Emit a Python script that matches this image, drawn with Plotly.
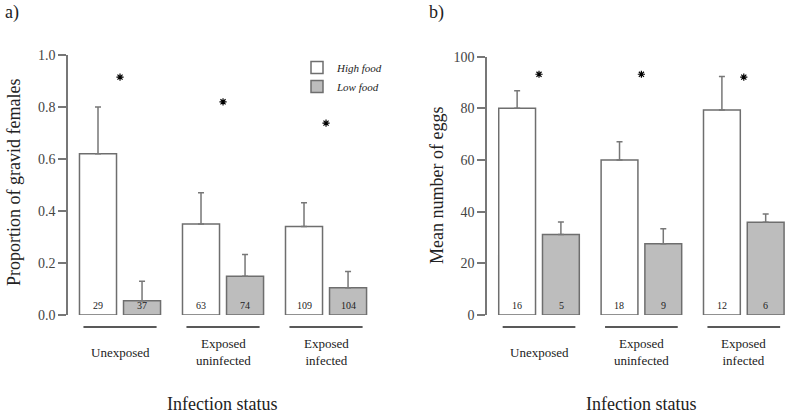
import plotly.graph_objects as go

W, H = 787, 415
FONT = "Liberation Serif"

categories = ["Unexposed", "Exposed uninfected", "Exposed infected"]
cat_labels = ["Unexposed", "Exposed<br>uninfected", "Exposed<br>infected"]

# Panel a: proportion of gravid females
a_high_mean = [0.62, 0.35, 0.34]
a_high_err = [0.18, 0.12, 0.092]
a_low_mean = [0.055, 0.149, 0.105]
a_low_err = [0.075, 0.084, 0.062]
a_high_n = ["29", "63", "109"]
a_low_n = ["37", "74", "104"]
a_star_y = [0.915, 0.82, 0.738]

# Panel b: mean number of eggs
b_high_mean = [80.0, 60.0, 79.4]
b_high_err = [6.8, 7.1, 12.9]
b_low_mean = [31.2, 27.6, 35.9]
b_low_err = [4.8, 5.8, 3.2]
b_high_n = ["16", "18", "12"]
b_low_n = ["5", "9", "6"]
b_star_y = [93.2, 93.2, 92.1]
b_letters = ["a", "b", "a,b"]
b_letter_y = [100.9, 100.9, 100.9]

WHITE = "#ffffff"
GREY = "#bdbdbd"
EDGE = "#6e6e6e"
AXC = "#777777"
TXT = "#222222"

fig = go.Figure()

def add_panel(xa, ya, hm, he, lm, le, showleg):
    fig.add_trace(go.Bar(
        x=categories, y=hm, name="High food", xaxis=xa, yaxis=ya,
        marker=dict(color=WHITE, line=dict(color=EDGE, width=1.5)),
        error_y=dict(type="data", array=he, arrayminus=[0] * len(he), symmetric=False,
                     color=AXC, thickness=1.5, width=3),
        showlegend=showleg, cliponaxis=False))
    fig.add_trace(go.Bar(
        x=categories, y=lm, name="Low food", xaxis=xa, yaxis=ya,
        marker=dict(color=GREY, line=dict(color=EDGE, width=1.5)),
        error_y=dict(type="data", array=le, arrayminus=[0] * len(le), symmetric=False,
                     color=AXC, thickness=1.5, width=3),
        showlegend=showleg, cliponaxis=False))

add_panel("x", "y", a_high_mean, a_high_err, a_low_mean, a_low_err, True)
add_panel("x2", "y2", b_high_mean, b_high_err, b_low_mean, b_low_err, False)

star_marker = dict(symbol="asterisk-open", size=6, color="black", line=dict(color="black", width=1.2))
fig.add_trace(go.Scatter(x=categories, y=a_star_y, xaxis="x", yaxis="y", mode="markers",
                         marker=star_marker, showlegend=False, cliponaxis=False))
fig.add_trace(go.Scatter(x=categories, y=b_star_y, xaxis="x2", yaxis="y2", mode="markers",
                         marker=star_marker, showlegend=False, cliponaxis=False))
fig.add_trace(go.Scatter(x=categories, y=b_letter_y, xaxis="x2", yaxis="y2", mode="text",
                         text=b_letters, textposition="middle center",
                         textfont=dict(family=FONT, size=13, color=TXT),
                         showlegend=False, cliponaxis=False))

annotations = []
shapes = []

def px_x(v):
    return v / W

def px_y(v):
    return (H - v) / H

for xa, hn, ln in (("x", a_high_n, a_low_n), ("x2", b_high_n, b_low_n)):
    ya = xa.replace("x", "y")
    for i, c in enumerate(categories):
        annotations.append(dict(x=c, y=0, xref=xa, yref=ya, text=hn[i],
                                showarrow=False, xshift=-22, xanchor="center",
                                yanchor="bottom", yshift=2,
                                font=dict(family=FONT, size=10, color=TXT)))
        annotations.append(dict(x=c, y=0, xref=xa, yref=ya, text=ln[i],
                                showarrow=False, xshift=22, xanchor="center",
                                yanchor="bottom", yshift=2,
                                font=dict(family=FONT, size=10, color=TXT)))
        annotations.append(dict(x=c, y=px_y(352), xref=xa, yref="paper", text=cat_labels[i],
                                showarrow=False, xanchor="center", yanchor="middle",
                                font=dict(family=FONT, size=13, color=TXT)))
        shapes.append(dict(type="line", xref=xa, yref="paper", x0=i - 0.355, x1=i + 0.355,
                           y0=px_y(327), y1=px_y(327), line=dict(color=TXT, width=1.3)))

def text_ann(x, y, text, size=18, angle=0, xanchor="center"):
    return dict(x=px_x(x), y=px_y(y), xref="paper", yref="paper", text=text,
                textangle=angle, showarrow=False, xanchor=xanchor, yanchor="middle",
                font=dict(family=FONT, size=size, color=TXT))

annotations += [
    text_ann(14, 183, "Proportion of gravid females", angle=-90),
    text_ann(437, 186, "Mean number of eggs", angle=-90),
    text_ann(222, 404, "Infection status"),
    text_ann(641, 404, "Infection status"),
    text_ann(3, 12, "a)", xanchor="left"),
    text_ann(427, 13, "b)", xanchor="left"),
]

yax_common = dict(showline=True, linecolor=AXC, linewidth=1.5, ticks="outside", ticklen=8,
                  tickwidth=1.5, tickcolor=AXC, showgrid=False, zeroline=False, automargin=False,
                  tickfont=dict(family=FONT, size=14, color="#444"))
xax_common = dict(showline=False, showgrid=False, zeroline=False, showticklabels=False,
                  ticks="", type="category", automargin=False)

fig.update_layout(
    width=W, height=H, margin=dict(l=0, r=0, t=0, b=0, autoexpand=False),
    paper_bgcolor="white", plot_bgcolor="white",
    barmode="group", bargap=0.145, bargroupgap=0.159,
    xaxis=dict(domain=[px_x(68), px_x(390)], range=[-0.505, 2.621], anchor="y", **xax_common),
    yaxis=dict(domain=[px_y(315), px_y(55)], range=[0, 1], anchor="x",
               tickvals=[0, 0.2, 0.4, 0.6, 0.8, 1.0], tickformat=".1f", **yax_common),
    xaxis2=dict(domain=[px_x(487), 1.0], range=[-0.508, 2.422], anchor="y2", **xax_common),
    yaxis2=dict(domain=[px_y(315), px_y(56.7)], range=[0, 100], anchor="x2",
                tickvals=[0, 20, 40, 60, 80, 100], **yax_common),
    legend=dict(x=px_x(297), y=px_y(53), xanchor="left", yanchor="top",
                font=dict(family=FONT, size=11, color=TXT, style="italic"),
                bgcolor="rgba(0,0,0,0)", tracegroupgap=0, itemwidth=30),
    annotations=annotations, shapes=shapes,
    font=dict(family=FONT),
)

fig.write_html("out.html", config={"displayModeBar": False},
               post_script="document.body.style.margin='0px';document.body.style.overflow='hidden';")
